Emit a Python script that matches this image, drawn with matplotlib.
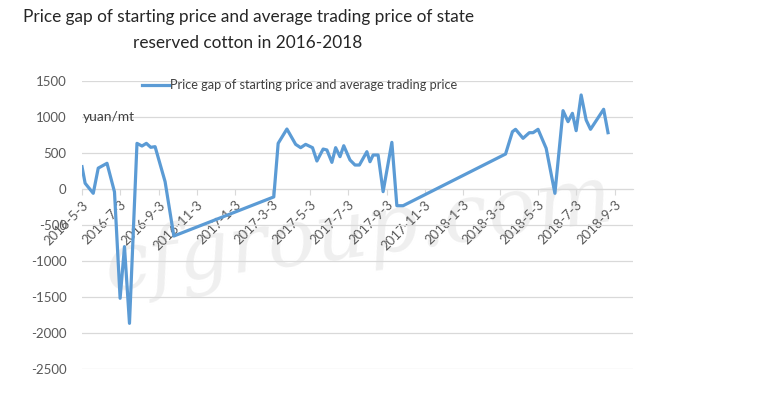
import matplotlib
matplotlib.use('Agg')
import matplotlib.pyplot as plt
import pandas as pd

plt.rcParams['font.family'] = ['Lato', 'DejaVu Sans']

dates = ['2016-05-03', '2016-05-08', '2016-05-21', '2016-05-29', '2016-06-12', '2016-06-24',
         '2016-07-03', '2016-07-10', '2016-07-18', '2016-07-30', '2016-08-07', '2016-08-14',
         '2016-08-21', '2016-08-28', '2016-09-13', '2016-09-27',
         '2017-03-06', '2017-03-13', '2017-03-27', '2017-04-10', '2017-04-18', '2017-04-26',
         '2017-05-07', '2017-05-14', '2017-05-24', '2017-05-30', '2017-06-07', '2017-06-13',
         '2017-06-20', '2017-06-26', '2017-07-06', '2017-07-14', '2017-07-21', '2017-08-02',
         '2017-08-07', '2017-08-12', '2017-08-20', '2017-08-28', '2017-09-11', '2017-09-19',
         '2017-09-29',
         '2018-03-12', '2018-03-23', '2018-03-28', '2018-04-09', '2018-04-19', '2018-04-25',
         '2018-05-03', '2018-05-16', '2018-05-30', '2018-06-12', '2018-06-20', '2018-06-27',
         '2018-07-03', '2018-07-11', '2018-07-19', '2018-07-26', '2018-08-16', '2018-08-23']
gap = [310, 80, -60, 290, 357, -40,
       -1518, -800, -1866, 634, 597, 634,
       579, 588, 102, -653,
       -110, 634, 833, 620, 574, 620,
       574, 389, 555, 542, 370, 574,
       449, 601, 403, 333, 333, 518,
       379, 472, 472, -37, 648, -232,
       -232,
       486, 796, 829, 704, 782, 782,
       829, 565, -60, 1088, 935, 1051,
       810, 1306, 958, 829, 1107, 782]

tick_dates = ['2016-05-03', '2016-07-03', '2016-09-03', '2016-11-03', '2017-01-03',
              '2017-03-03', '2017-05-03', '2017-07-03', '2017-09-03', '2017-11-03',
              '2018-01-03', '2018-03-03', '2018-05-03', '2018-07-03', '2018-09-03']
tick_labels = ['2016-5-3', '2016-7-3', '2016-9-3', '2016-11-3', '2017-1-3',
               '2017-3-3', '2017-5-3', '2017-7-3', '2017-9-3', '2017-11-3',
               '2018-1-3', '2018-3-3', '2018-5-3', '2018-7-3', '2018-9-3']
y_ticks = [-2500, -2000, -1500, -1000, -500, 0, 500, 1000, 1500]

x = pd.to_datetime(dates)

fig = plt.figure(figsize=(7.79, 3.97), dpi=100)
ax = fig.add_axes([82 / 779, 1 - 369 / 397, (633 - 82) / 779, (369 - 81) / 397])
ax.set_facecolor('none')

# watermark, drawn by the figure before the axes
fig.text(0.46, 0.41, 'cfgroup.com', fontsize=58, family='DejaVu Serif', style='italic',
         color='#efefef', rotation=8, ha='center', va='center', zorder=-1)

ax.plot(x, gap, color='#5b9bd5', lw=2.3, solid_joinstyle='round',
        label='Price gap of starting price and average trading price', zorder=3)

for s in ['top', 'right', 'left']:
    ax.spines[s].set_visible(False)
ax.spines['bottom'].set_position(('data', 0))
ax.spines['bottom'].set_color('#d9d9d9')

ax.set_xlim(pd.Timestamp('2016-05-03'), pd.Timestamp('2018-10-02'))
ax.set_ylim(-2500, 1500)
ax.set_yticks(y_ticks)
ax.set_yticklabels([str(v) for v in y_ticks])
ax.yaxis.grid(True, color='#d9d9d9', lw=0.9)
ax.set_axisbelow(True)

ax.set_xticks(pd.to_datetime(tick_dates))
ax.set_xticklabels(tick_labels, rotation=45, ha='right', va='top', rotation_mode='anchor')

ax.tick_params(axis='y', length=0, pad=11, labelsize=9.5, labelcolor='#595959')
ax.tick_params(axis='x', length=4, width=0.8, color='#d9d9d9', pad=3, labelsize=9.5,
               labelcolor='#595959')

ax.text(0.002, 0.875, 'yuan/mt', transform=ax.transAxes, fontsize=10, color='#404040',
        va='center', ha='left')

ax.legend(loc='center left', bbox_to_anchor=(0.1, 0.985), frameon=False, fontsize=9.2,
          handlelength=2.1, handletextpad=0.1, borderaxespad=0, labelcolor='#404040')

fig.text(248 / 779, 1 - 9 / 397,
         'Price gap of starting price and average trading price of state\nreserved cotton in 2016-2018',
         ha='center', va='top', fontsize=12.4, color='#262626', linespacing=1.75)

fig.savefig('out.png', dpi=100)
